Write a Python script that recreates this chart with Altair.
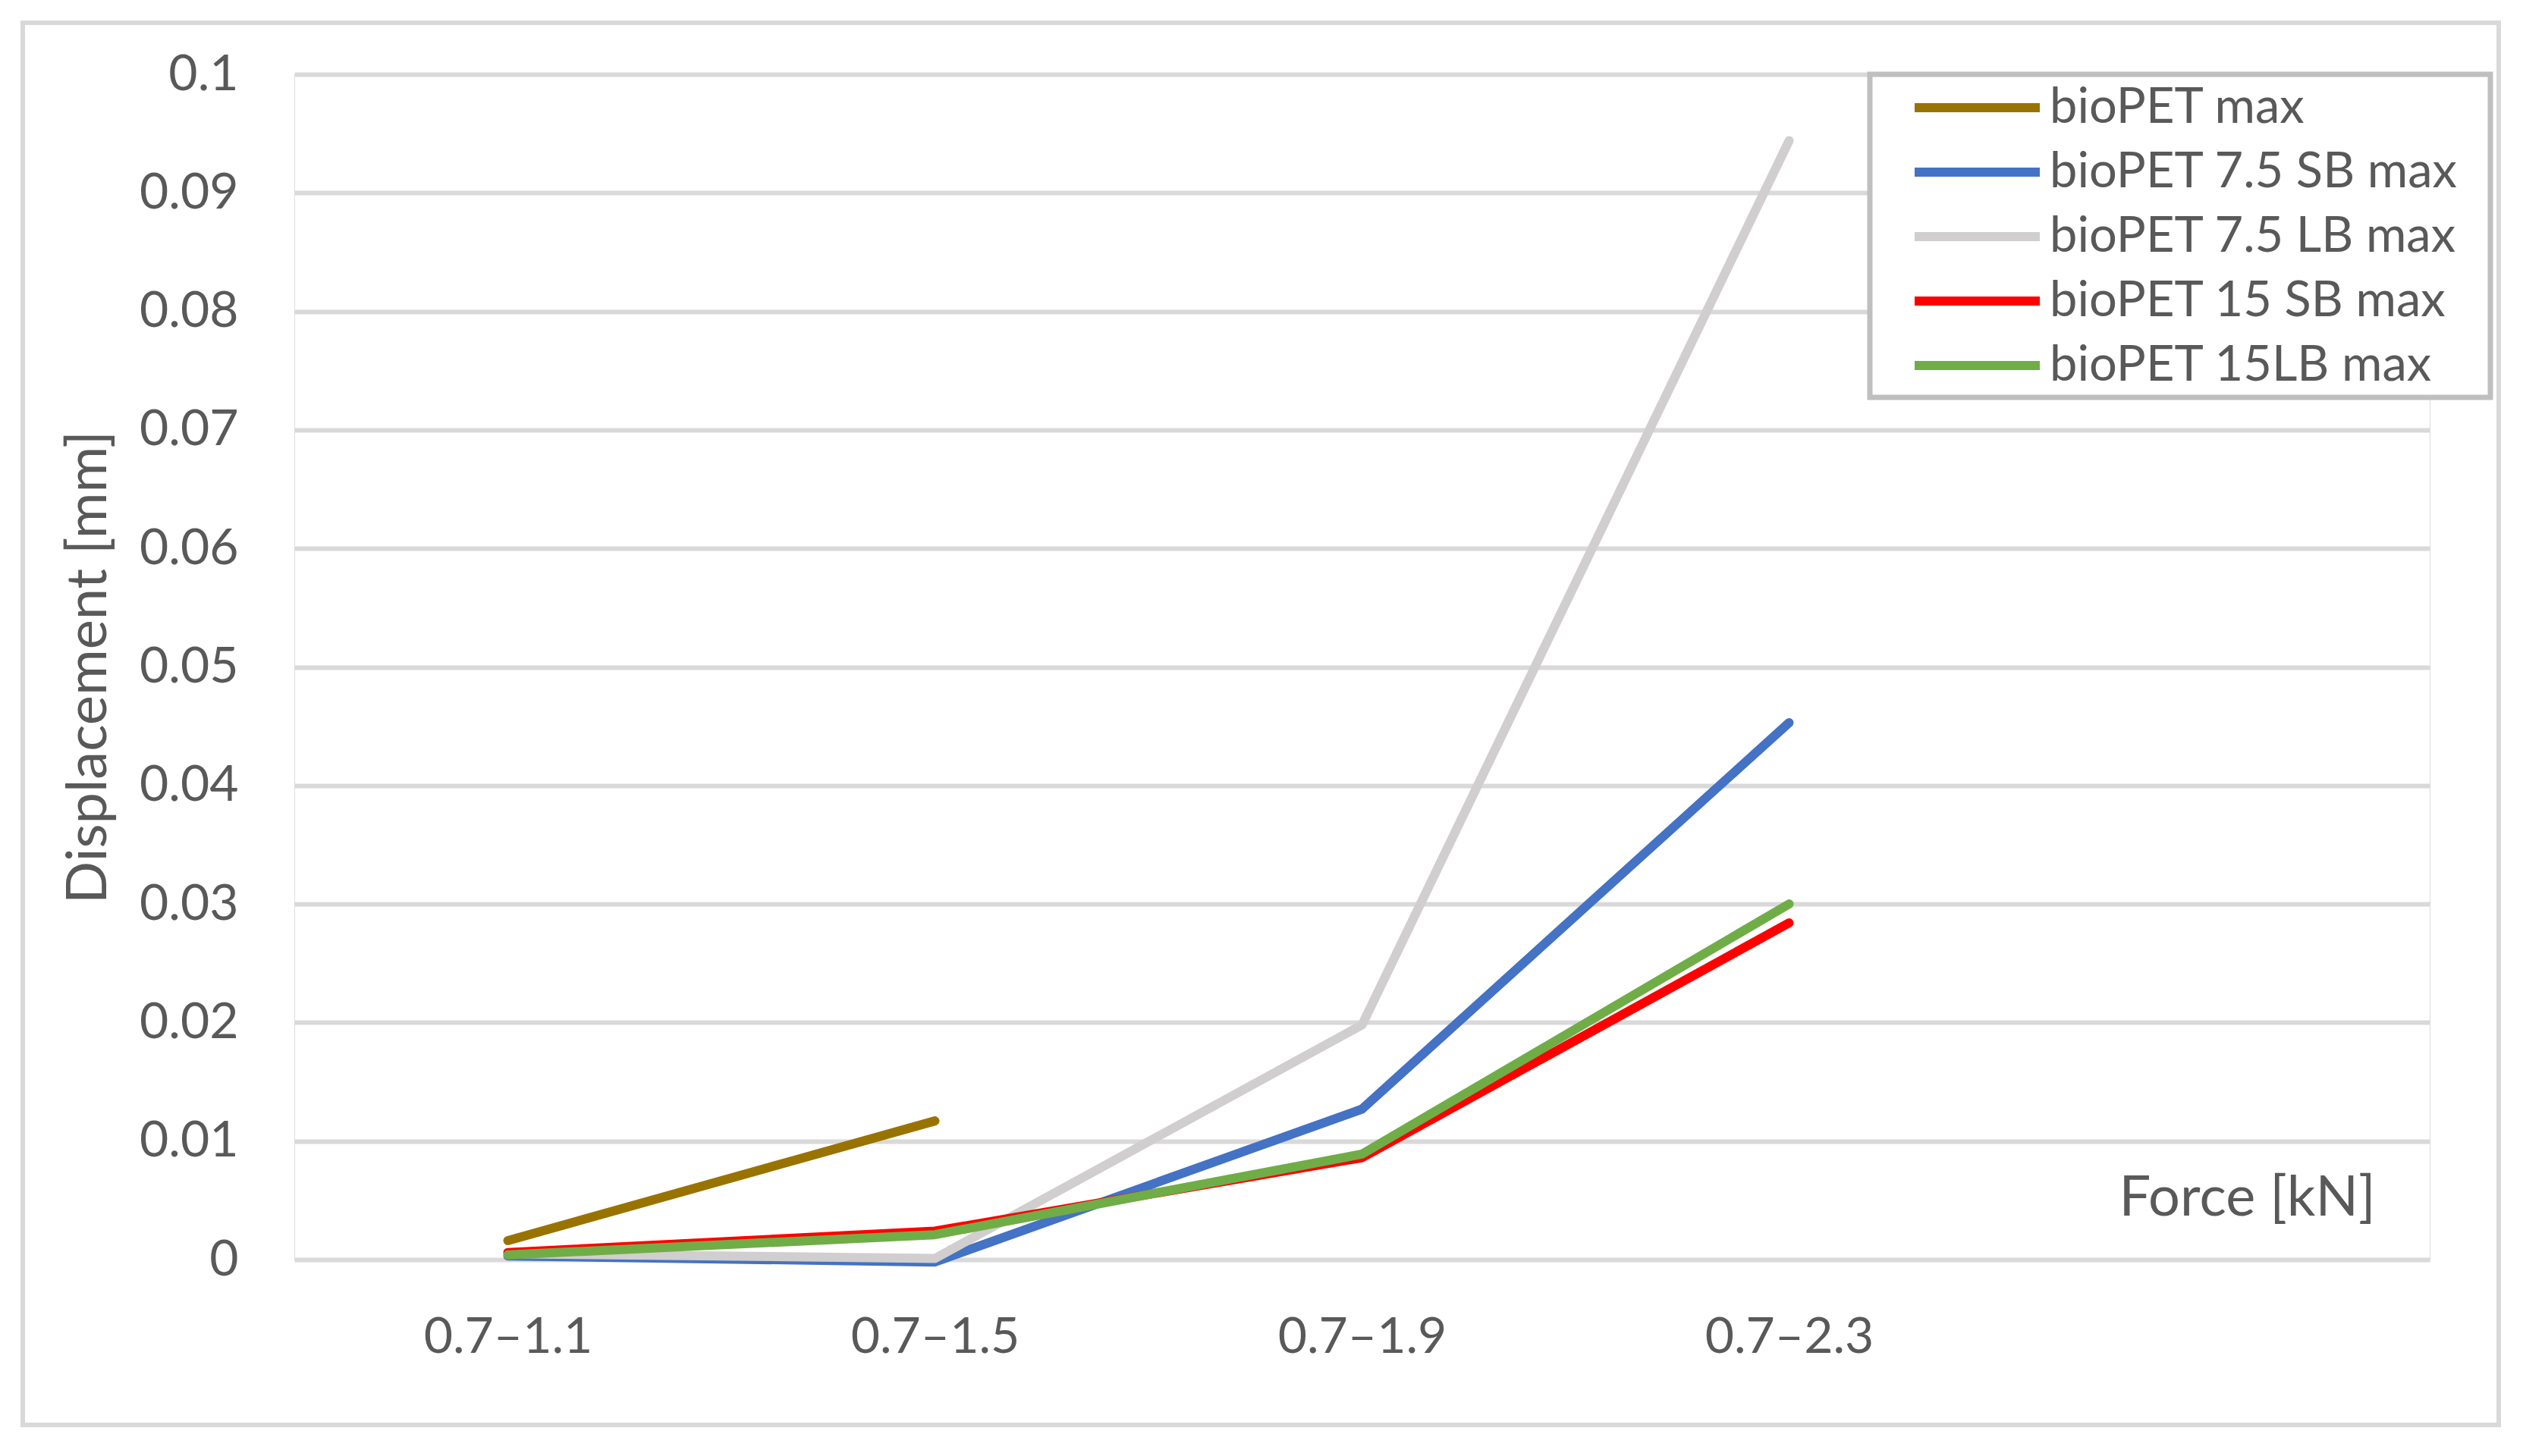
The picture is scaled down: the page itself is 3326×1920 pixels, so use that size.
import altair as alt
import pandas as pd

# ---- data ----
categories = ["0.7–1.1", "0.7–1.5", "0.7–1.9", "0.7–2.3"]
x_domain = categories + [" "]          # Excel leaves an empty fifth slot
series = ["bioPET max", "bioPET 7.5 SB max", "bioPET 7.5 LB max",
          "bioPET 15 SB max", "bioPET 15LB max"]
colors = ["#997300", "#4472C4", "#D0CECE", "#FF0000", "#70AD47"]

biopet_max = [0.0016, 0.0117, None, None]
biopet_75sb = [0.0003, -0.0002, 0.0127, 0.0453]
biopet_75lb = [0.0005, 0.0001, 0.0198, 0.0944]
biopet_15sb = [0.0006, 0.0024, 0.0086, 0.0284]
biopet_15lb = [0.0004, 0.0021, 0.0089, 0.0300]

y_ticks = [0, 0.01, 0.02, 0.03, 0.04, 0.05, 0.06, 0.07, 0.08, 0.09, 0.1]

rows = []
for name, vals in zip(series, [biopet_max, biopet_75sb, biopet_75lb, biopet_15sb, biopet_15lb]):
    for order, (c, v) in enumerate(zip(categories, vals)):
        if v is not None:
            rows.append({"Force": c, "Displacement": v, "Series": name, "ord": order})
df = pd.DataFrame(rows)

FONT = "Lato"
TXT = "#595959"
W, H = 2815, 1563
LW = 12

one = pd.DataFrame({"a": [0]})
frame = alt.Chart(one).mark_rect(
    fillOpacity=0, stroke="#D9D9D9", strokeWidth=6, clip=False
).encode(
    x=alt.value(-358), x2=alt.value(2906), y=alt.value(-68), y2=alt.value(1781)
)
legend_box = alt.Chart(one).mark_rect(
    fill="white", stroke="#BFBFBF", strokeWidth=7, clip=False
).encode(
    x=alt.value(2077), x2=alt.value(2895), y=alt.value(0), y2=alt.value(426)
)

lines = alt.Chart(df).mark_line(
    strokeWidth=LW, strokeCap="round", strokeJoin="round", clip=False
).encode(
    x=alt.X("Force:N",
            scale=alt.Scale(type="point", domain=x_domain, padding=0.5),
            axis=alt.Axis(title="Force [kN]", labelAngle=0, ticks=False, domain=False,
                          grid=False, labelPadding=70, labelFontSize=66,
                          labelLimit=1000,
                          labelColor=TXT, labelFont=FONT,
                          titleFontSize=74, titleFont=FONT, titleColor=TXT,
                          titleFontWeight="normal",
                          titleX=2574, titleY=-81, titleAlign="center",
                          titleBaseline="middle")),
    y=alt.Y("Displacement:Q",
            scale=alt.Scale(domain=[0, 0.1], nice=False, zero=False),
            axis=alt.Axis(title="Displacement [mm]", values=y_ticks, format="~g",
                          ticks=False, domain=False, grid=True,
                          gridColor="#D9D9D9", gridWidth=6,
                          labelPadding=74, labelFontSize=66, labelColor=TXT,
                          labelFont=FONT,
                          titleFontSize=74, titleFont=FONT, titleColor=TXT,
                          titleFontWeight="normal", titleX=-271,
                          titleBaseline="middle")),
    color=alt.Color("Series:N",
                    scale=alt.Scale(domain=series, range=colors),
                    sort=series,
                    legend=alt.Legend(
                        title=None, orient="none", legendX=2077, legendY=0,
                        symbolType="stroke", symbolSize=165 * 165,
                        symbolStrokeWidth=LW, clipHeight=70, rowPadding=15,
                        labelFontSize=65, labelFont=FONT, labelColor=TXT,
                        labelOffset=7, labelLimit=1000,
                        padding=9, symbolOffset=44)),
    order=alt.Order("ord:Q"),
)

chart = alt.layer(frame, legend_box, lines).properties(
    width=W, height=H,
    autosize=alt.AutoSizeParams(type="none"),
    padding={"left": 380, "top": 90, "right": 97, "bottom": 229},
).configure_view(strokeWidth=0).configure(font=FONT)

chart.save("out.html", embed_options={"renderer": "svg", "actions": False})
